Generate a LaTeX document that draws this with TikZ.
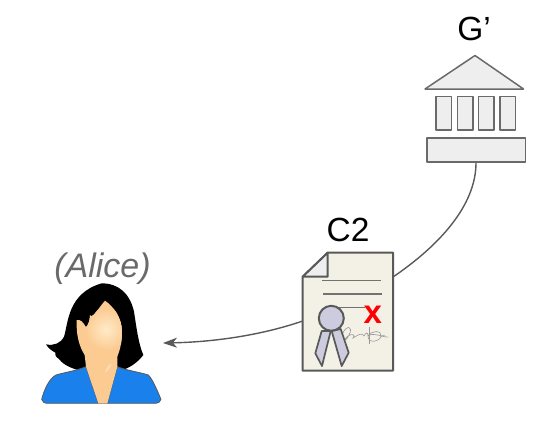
\documentclass[tikz,border=0pt]{standalone}
\usepackage{fontspec}
\setmainfont{Liberation Sans}
\usetikzlibrary{arrows.meta}
\definecolor{edge}{HTML}{595959}
\definecolor{paper}{HTML}{F3F0E6}
\definecolor{foldc}{HTML}{EEEEEE}
\definecolor{ribbon}{HTML}{CCCCDE}
\definecolor{shirt}{HTML}{1A80EC}
\definecolor{skinA}{HTML}{FFEBC8}
\definecolor{skinB}{HTML}{FBCB92}
\tikzset{
  bankpart/.style={draw=edge!90!white,fill=foldc,line width=1.5pt,line join=round},
  docpart/.style={draw=edge,line width=2pt,line join=round},
  docline/.style={draw=edge!85!white,line width=1.4pt},
  label/.style={inner sep=0pt,anchor=base,font=\fontsize{33.5}{36}\selectfont},
  link/.style={draw=edge,line width=1.4pt},
}
\begin{document}
\begin{tikzpicture}[x=1pt,y=-1pt]
\useasboundingbox (0,0) rectangle (540,420);
% labels
\node[label] (gl) at (474,41) {G’};
\node[label] (cl) at (348,241) {C2};
\node[label,text=edge!90!white,font=\fontsize{34}{36}\selectfont\itshape] (al) at (102.5,277) {(Alice)};
% bank
\path[bankpart] (425,89) -- (475,55.5) -- (523.5,89) -- cycle;
\foreach \xx in {436,457.3,478.7,500}
  \path[bankpart] (\xx,96.5) rectangle (\xx+15.5,130);
\node[bankpart,minimum width=98.5pt,minimum height=24pt,inner sep=0pt] (bank) at (476,150) {};
% document
\node[minimum width=90pt,minimum height=118pt,inner sep=0pt] (doc) at (348,311.7) {};
\path[docpart,fill=paper] (327.7,252.7) -- (393,252.7) -- (393,370.7) -- (302.7,370.7) -- (302.7,276.7) -- cycle;
\path[docpart,fill=foldc] (327.7,252.7) -- (327.7,276.7) -- (302.7,276.7) -- cycle;
\draw[docline] (322.3,280.3) -- (380.7,280.3);
\draw[docline] (323,294) -- (381.7,294);
\draw[docline] (330,307.7) -- (365,307.7);
\draw[gray!80,line width=0.6pt,line cap=round]
  (342,335) .. controls (346,324) and (354,326) .. (349,335)
  .. controls (345,343) and (343,340) .. (348,336)
  .. controls (352,333) and (356,335) .. (353,338)
  .. controls (358,335) and (362,332) .. (364,336)
  .. controls (366,332) and (368,332) .. (368,336)
  .. controls (372,330) and (382,330) .. (381,336)
  .. controls (380,342) and (368,344) .. (368,336)
  .. controls (370,333) and (380,335) .. (385,337);
\draw[gray!80,line width=0.6pt] (369,327) -- (369,344);
\draw[gray!70,line width=0.6pt,line cap=round] (381,337) .. controls (384,332) and (386,339) .. (388,337);
\path[docpart,fill=ribbon,line width=1.7pt] (321.7,331) -- (315.3,353.3) -- (322,366) -- (330.7,331) -- cycle;
\path[docpart,fill=ribbon,line width=1.7pt] (331.7,331) -- (341.7,366) -- (348.7,352.7) -- (340.7,329) -- cycle;
\path[docpart,fill=ribbon] (331.3,318.3) circle (12.5);
\node[inner sep=0pt,text=red,font=\fontsize{33}{36}\selectfont\bfseries] (mark) at (372.7,315) {x};
% connectors
\coordinate (docin) at (393,277);
\coordinate (docout) at (302.7,321);
\coordinate (alice) at (163,343);
\draw[link] (bank.south) .. controls (476,205) and (440,245) .. (docin);
\draw[link,-{Stealth[length=14pt,width=10pt,inset=4pt]}] (docout) .. controls (262,335) and (215,342) .. (alice);
% person
\begin{scope}[shift={(30,240)},x=0.3333pt,y=-0.3333pt]
\path[fill=black] (215,130) .. controls (265,130) and (300,160) .. (312,215)
  .. controls (320,265) and (325,310) .. (340,345)
  .. controls (325,365) and (300,385) .. (270,392)
  -- (150,392) .. controls (125,385) and (100,375) .. (88,358)
  .. controls (78,350) and (72,345) .. (76,338)
  .. controls (65,332) and (55,325) .. (48,313)
  .. controls (72,318) and (92,310) .. (102,290)
  .. controls (115,250) and (112,160) .. (215,130) -- cycle;
\path[fill=shirt,draw=edge,line width=0.8pt,line join=round] (35,478) .. controls (42,450) and (58,415) .. (78,405)
  .. controls (105,397) and (140,392) .. (168,380)
  -- (205,490) -- (232,490) -- (262,380)
  .. controls (285,390) and (330,397) .. (355,405)
  .. controls (370,420) and (385,460) .. (393,478)
  .. controls (390,486) and (385,490) .. (378,490)
  -- (50,490) .. controls (43,490) and (38,486) .. (35,478) -- cycle;
\begin{scope}
\clip (168,262)
  .. controls (175,255) and (180,240) .. (180,225)
  .. controls (185,240) and (205,205) .. (225,182)
  .. controls (250,200) and (275,230) .. (276,275)
  .. controls (276,310) and (268,335) .. (262,350)
  -- (262,380) -- (232,490) -- (205,490) -- (168,380) -- (164,345)
  .. controls (148,320) and (138,285) .. (140,240)
  .. controls (150,238) and (160,245) .. (168,262) -- cycle;
\fill[skinB] (120,170) rectangle (290,500);
\shade[inner color=skinA,outer color=skinB] (228,268) circle (21pt);
\end{scope}
\path[fill=white,fill opacity=0.35] (226,392) .. controls (232,380) and (240,372) .. (244,372) .. controls (242,382) and (234,392) .. (226,398) -- cycle;
\end{scope}
\end{tikzpicture}
\end{document}
